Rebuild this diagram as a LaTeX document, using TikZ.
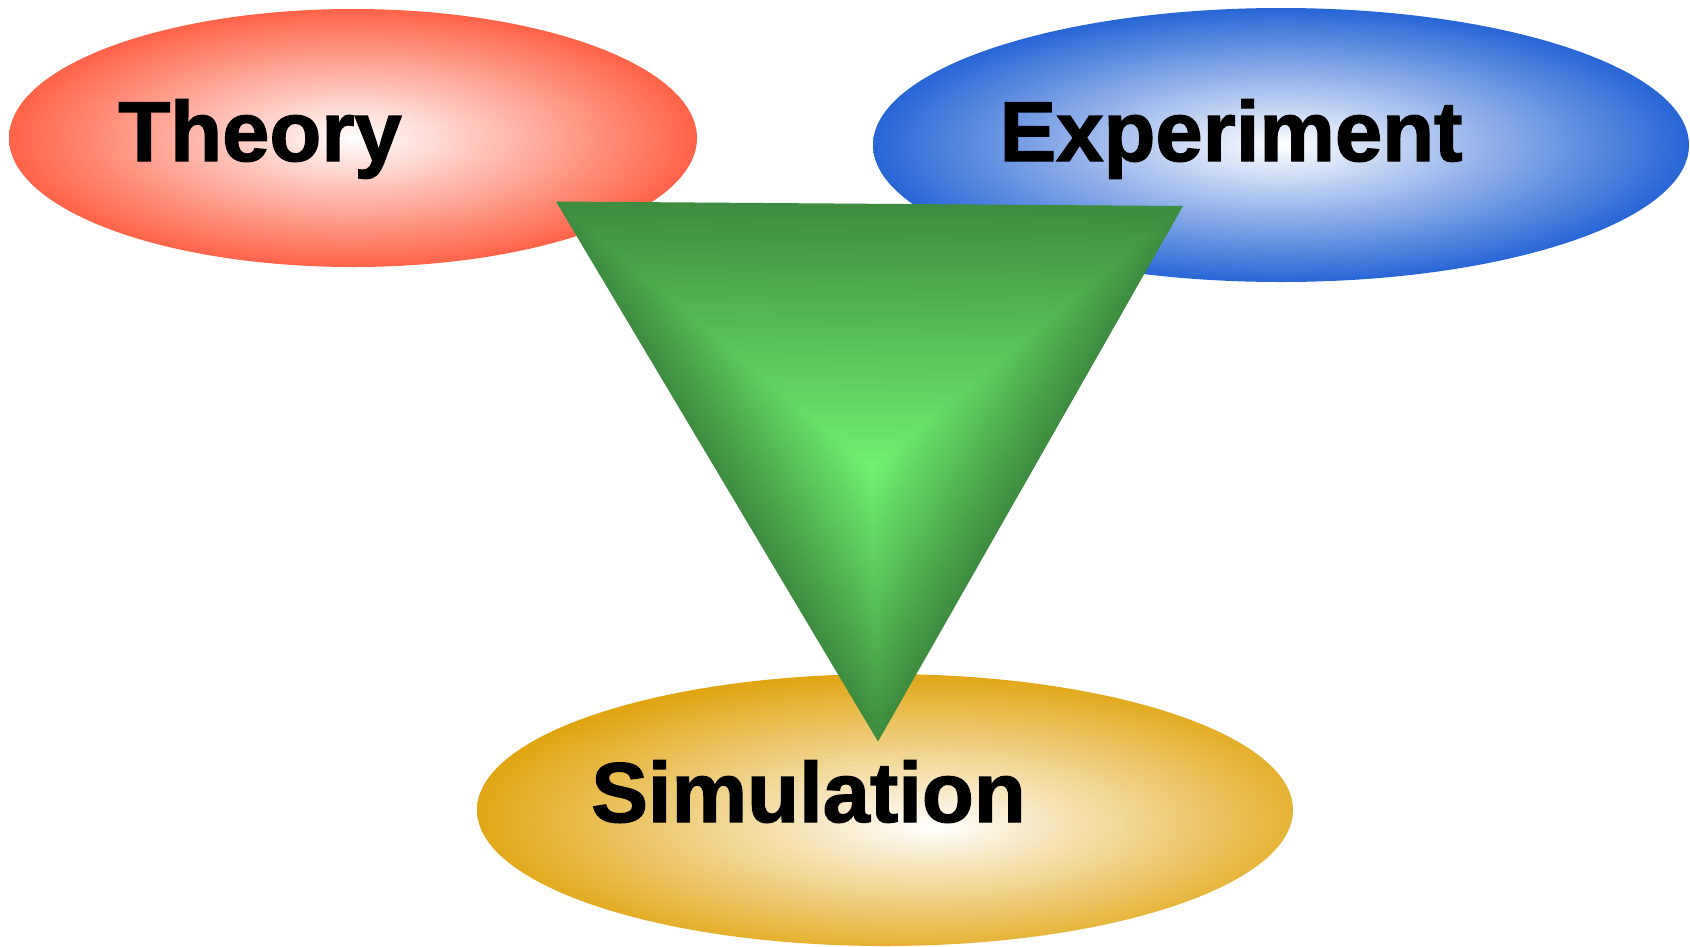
\documentclass[tikz,border=0pt]{standalone}
\usepackage{fontspec}
\setmainfont{Liberation Sans}
\newfontfamily\heavyfont[FakeBold=1.6]{Liberation Sans Bold}
\usetikzlibrary{calc,shapes.geometric}

\definecolor{theoryred}{RGB}{255,99,72}
\definecolor{expblue}{RGB}{40,102,214}
\definecolor{simgold}{RGB}{224,162,10}
\definecolor{gdark}{RGB}{62,140,64}
\definecolor{gbright}{RGB}{112,242,112}

\pgfdeclareradialshading{simshade}{\pgfpoint{3bp}{-3bp}}{color(0bp)=(white); color(28bp)=(simgold); color(60bp)=(simgold)}

\begin{document}
\begin{tikzpicture}[x=1pt,y=-1pt,
  blob/.style={ellipse, draw=none, inner sep=0pt, outer sep=0pt},
  bigword/.style={inner sep=0pt, anchor=base, text=black,
    font=\heavyfont\fontsize{85}{96}\selectfont}]
\useasboundingbox (0,0) rectangle (1690,946);

% ellipses
\node[blob, shade, inner color=white, outer color=theoryred, minimum width=688pt, minimum height=258pt] (theoryBg) at (353,138) {};
\node[blob, shade, inner color=white, outer color=expblue, minimum width=816pt, minimum height=274pt] (experimentBg) at (1281,145) {};
\node[blob, shade, shading=simshade, minimum width=816pt, minimum height=272pt] (simulationBg) at (885,810) {};

% triangle with path-gradient look
\coordinate (tA) at (556,201.5);
\coordinate (tB) at (1183,206);
\coordinate (tC) at (878,741.5);
\coordinate (tS) at (872,470);
\foreach \k in {100,99,...,1} {
  \pgfmathsetmacro{\t}{\k/100}
  \pgfmathsetmacro{\p}{100*(1-\t)}
  \fill[gbright!\p!gdark] ($(tS)!\t!(tA)$) -- ($(tS)!\t!(tB)$) -- ($(tS)!\t!(tC)$) -- cycle;
}

% labels
\node[bigword] (theory) at (260,161) {Theory};
\node[bigword] (experiment) at (1231,161) {Experiment};
\node[bigword] (simulation) at (808.5,822) {Simulation};
\end{tikzpicture}
\end{document}
